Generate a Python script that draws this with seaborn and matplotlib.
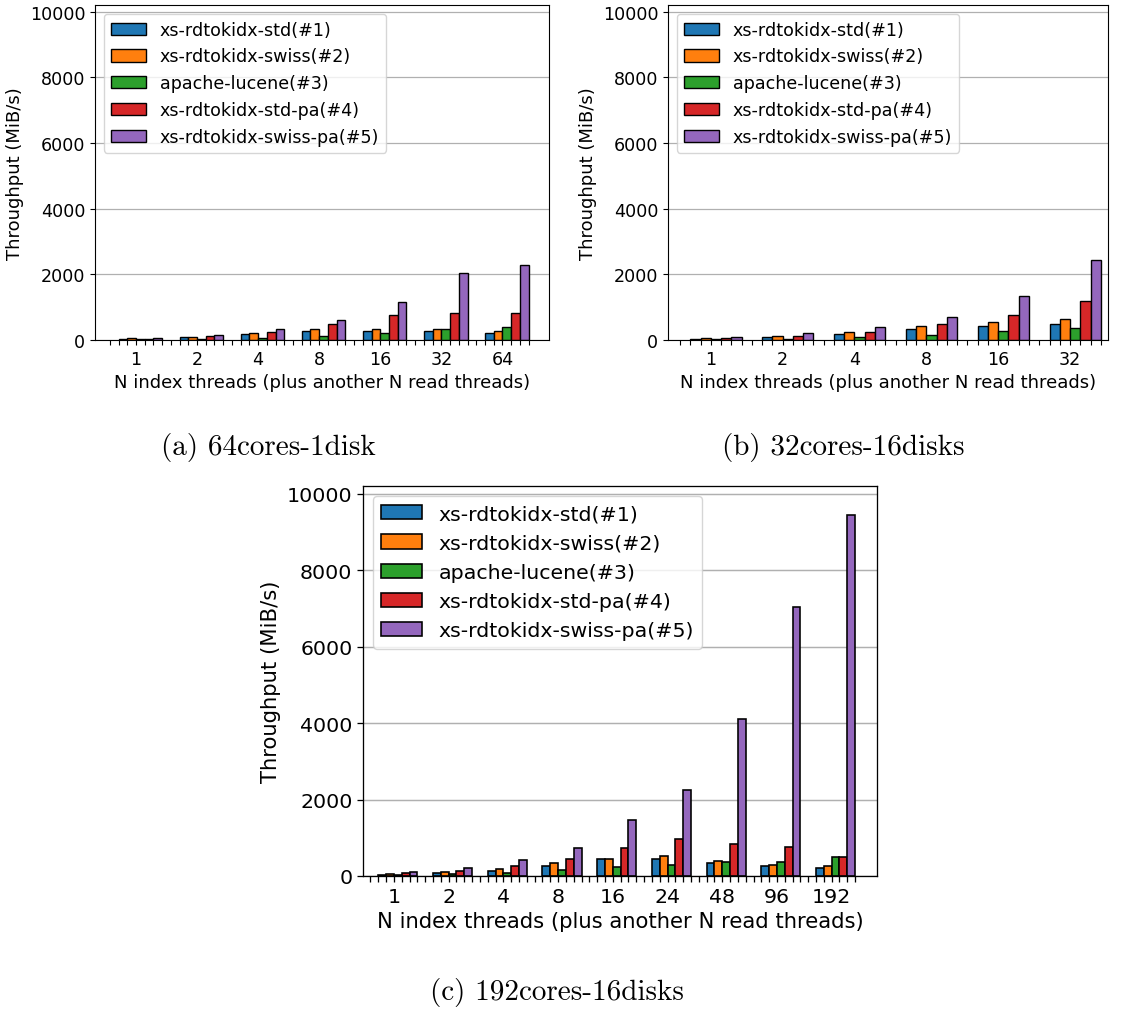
import numpy as np
import pandas as pd
import matplotlib
matplotlib.use("Agg")
import matplotlib.pyplot as plt
import seaborn as sns

series = ["xs-rdtokidx-std(#1)", "xs-rdtokidx-swiss(#2)", "apache-lucene(#3)",
          "xs-rdtokidx-std-pa(#4)", "xs-rdtokidx-swiss-pa(#5)"]
colors = ["#1f77b4", "#ff7f0e", "#2ca02c", "#d62728", "#9467bd"]

# (a) 64cores-1disk
threads_a = ["1", "2", "4", "8", "16", "32", "64"]
a_std = [41, 92, 184, 276, 286, 286, 204]
a_swiss = [51, 102, 214, 347, 347, 347, 265]
a_lucene = [20, 41, 61, 122, 224, 337, 398]
a_std_pa = [41, 112, 245, 480, 755, 827, 816]
a_swiss_pa = [61, 163, 337, 622, 1143, 2051, 2276]

# (b) 32cores-16disks
threads_b = ["1", "2", "4", "8", "16", "32"]
b_std = [41, 102, 184, 347, 429, 490]
b_swiss = [61, 133, 255, 439, 561, 633]
b_lucene = [20, 41, 82, 153, 276, 367]
b_std_pa = [61, 133, 255, 480, 776, 1194]
b_swiss_pa = [92, 204, 408, 714, 1347, 2449]

# (c) 192cores-16disks
threads_c = ["1", "2", "4", "8", "16", "24", "48", "96", "192"]
c_std = [26, 78, 139, 261, 435, 443, 348, 252, 209]
c_swiss = [43, 104, 183, 339, 435, 522, 383, 296, 252]
c_lucene = [17, 43, 78, 148, 226, 287, 365, 357, 487]
c_std_pa = [78, 130, 252, 443, 739, 965, 826, 765, 496]
c_swiss_pa = [104, 209, 409, 739, 1452, 2252, 4113, 7042, 9450]

captions = ["(a) 64cores-1disk", "(b) 32cores-16disks", "(c) 192cores-16disks"]
xlabel = "N index threads (plus another N read threads)"
ylabel = "Throughput (MiB/s)"

W, H = 1123, 1012
fig = plt.figure(figsize=(W / 100, H / 100), dpi=100)


def make_df(threads, vals):
    rows = []
    for s, v in zip(series, vals):
        for t, y in zip(threads, v):
            rows.append({"threads": t, "series": s, "value": y})
    return pd.DataFrame(rows)


def panel(rect_px, threads, vals, xlim, scale):
    L, R, T, B = rect_px
    ax = fig.add_axes([L / W, 1 - B / H, (R - L) / W, (B - T) / H])
    df = make_df(threads, vals)
    n = len(threads)
    sns.barplot(data=df, x="threads", y="value", hue="series", order=threads,
                hue_order=series, palette=colors, width=5 / 7, errorbar=None,
                edgecolor="black", linewidth=1.0 * scale, saturation=1, ax=ax)
    ax.set_ylim(0, 10200)
    ax.set_xlim(*xlim)
    ax.set_yticks([0, 2000, 4000, 6000, 8000, 10000])
    ax.yaxis.grid(True, color="#b0b0b0", linewidth=0.9 * scale)
    ax.set_axisbelow(True)
    w = 1 / 7
    ax.set_xticks(np.arange(n) - 0.5 * w)
    ax.set_xticklabels(threads)
    ax.set_xticks(np.arange(-3.5, 7 * (n - 1) + 2.5 + 0.01, 1.0) * w, minor=True)
    ax.tick_params(axis="both", which="major", labelsize=12.6 * scale,
                   length=3.5 * scale, width=0.8 * scale)
    ax.tick_params(axis="x", which="minor", length=3.5 * scale, width=0.8 * scale)
    ax.set_xlabel(xlabel, fontsize=13 * scale)
    ax.set_ylabel(ylabel, fontsize=13 * scale)
    for sp in ax.spines.values():
        sp.set_linewidth(0.8 * scale)
    sns.move_legend(ax, "upper left", title=None, fontsize=12.6 * scale,
                    frameon=True)
    leg = ax.get_legend()
    for h in leg.legend_handles:
        h.set_edgecolor("black")
        h.set_linewidth(1.0 * scale)
    return ax


panel((95, 549, 6, 341), threads_a,
      [a_std, a_swiss, a_lucene, a_std_pa, a_swiss_pa], (-0.742, 6.691), 1.0)
panel((668, 1108, 6, 341), threads_b,
      [b_std, b_swiss, b_lucene, b_std_pa, b_swiss_pa], (-0.667, 5.457), 1.0)
panel((363, 877, 487, 877), threads_c,
      [c_std, c_swiss, c_lucene, c_std_pa, c_swiss_pa], (-0.637, 8.757), 1.17)

cap_pos = [(268, 447), (843, 447), (557, 993)]
for (x, y), c in zip(cap_pos, captions):
    fig.text(x / W, 1 - y / H, c, ha="center", va="center", fontsize=21,
             family=["cmr10", "DejaVu Serif"])

fig.savefig("out.png", dpi=100)
